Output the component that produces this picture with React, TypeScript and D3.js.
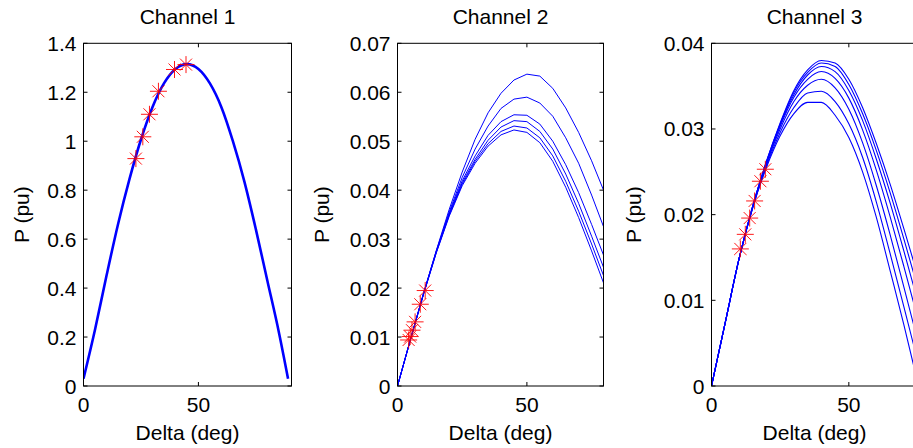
import React from "react";
import * as d3 from "d3";

// ---------- data ----------
const titles = ["Channel 1", "Channel 2", "Channel 3"];
const xLabel = "Delta (deg)";
const yLabel = "P (pu)";

const xTicks = [0, 50];
const yTicks1 = [0, 0.2, 0.4, 0.6, 0.8, 1, 1.2, 1.4];
const yTicks2 = [0, 0.01, 0.02, 0.03, 0.04, 0.05, 0.06, 0.07];
const yTicks3 = [0, 0.01, 0.02, 0.03, 0.04];

// Channel 1 (all curves coincide)
const ch1Delta = [0, 5, 10, 15, 20, 25, 30, 35, 40, 45, 50, 55, 60, 65, 70, 75, 80, 85, 89];
const ch1P = [0.03, 0.23, 0.45, 0.66, 0.845, 1.007, 1.139, 1.236, 1.295, 1.315, 1.295, 1.236, 1.139, 1.0, 0.835, 0.64, 0.43, 0.22, 0.03];
const ch1MarkDelta = [22.8, 25.8, 28.7, 32.6, 39.6, 44.6];
const ch1MarkP = [0.929, 1.018, 1.11, 1.204, 1.293, 1.313];

// Channel 2
const ch2Delta = [0, 5, 10, 15, 20, 25, 30, 35, 40, 45, 50, 55, 60, 65, 70, 75, 80];
const ch2A = [0, 0.0095, 0.0188, 0.0277, 0.0361, 0.0437, 0.0504, 0.0558, 0.0598, 0.0625, 0.0637, 0.0633, 0.0608, 0.0568, 0.0518, 0.046, 0.0395];
const ch2B = [0, 0.0095, 0.0188, 0.0276, 0.0356, 0.0426, 0.0484, 0.0531, 0.0567, 0.0586, 0.059, 0.0578, 0.0551, 0.0507, 0.0455, 0.039, 0.032];
const ch2C = [0, 0.0095, 0.0188, 0.0275, 0.0353, 0.0419, 0.047, 0.0512, 0.054, 0.0554, 0.0553, 0.0535, 0.05, 0.0452, 0.0395, 0.033, 0.0262];
const ch2D = [0, 0.0095, 0.0187, 0.0274, 0.0351, 0.0415, 0.0463, 0.0502, 0.0529, 0.0542, 0.054, 0.052, 0.0484, 0.0433, 0.0373, 0.0306, 0.0237];
const ch2E = [0, 0.0095, 0.0187, 0.0273, 0.0349, 0.0412, 0.0459, 0.0495, 0.052, 0.0531, 0.0527, 0.0507, 0.047, 0.0418, 0.0357, 0.029, 0.022];
const ch2F = [0, 0.0094, 0.0186, 0.0272, 0.0347, 0.0409, 0.0455, 0.049, 0.0513, 0.0523, 0.0518, 0.0497, 0.0459, 0.0406, 0.0344, 0.0276, 0.0205];
const ch2MarkDelta = [10.7, 8.8, 6.8, 5.6, 4.9, 4.3];
const ch2MarkP = [0.0195, 0.0167, 0.0131, 0.0114, 0.0101, 0.0094];

// Channel 3
const ch3Delta = [0, 5, 10, 15, 20, 25, 30, 35, 40, 45, 50, 55, 60, 65, 70, 75];
const ch3G1 = [0, 0.0074, 0.0148, 0.021, 0.0262, 0.0307, 0.0345, 0.0369, 0.038, 0.0377, 0.0358, 0.0325, 0.0283, 0.0236, 0.0184, 0.013];
const ch3G2 = [0, 0.0074, 0.0148, 0.021, 0.0262, 0.0306, 0.0343, 0.0366, 0.0377, 0.0373, 0.0352, 0.0318, 0.0275, 0.0226, 0.0172, 0.0116];
const ch3G3 = [0, 0.0074, 0.0148, 0.021, 0.0261, 0.0305, 0.034, 0.0363, 0.0373, 0.0367, 0.0345, 0.031, 0.0265, 0.0214, 0.0158, 0.01];
const ch3G4 = [0, 0.0074, 0.0148, 0.0209, 0.026, 0.0303, 0.0337, 0.0358, 0.0367, 0.0359, 0.0336, 0.0299, 0.0252, 0.0198, 0.014, 0.008];
const ch3G5 = [0, 0.0074, 0.0148, 0.0209, 0.0259, 0.03, 0.0332, 0.0351, 0.0358, 0.0348, 0.0323, 0.0284, 0.0234, 0.0177, 0.0116, 0.0054];
const ch3G6 = [0, 0.0074, 0.0148, 0.0208, 0.0257, 0.0296, 0.0325, 0.0342, 0.0344, 0.0332, 0.0306, 0.0267, 0.0215, 0.0155, 0.0093, 0.003];
const ch3G7 = [0, 0.0074, 0.0148, 0.0208, 0.0255, 0.0292, 0.0318, 0.0331, 0.0331, 0.0316, 0.029, 0.025, 0.0197, 0.0135, 0.0072, 0.0005];
const ch3MarkDelta = [10.5, 12.3, 13.9, 15.7, 17.8, 19.6];
const ch3MarkP = [0.016, 0.0177, 0.0196, 0.0216, 0.0239, 0.0253];

// ---------- layout ----------
const W = 913;
const H = 448;
const FONT = "'Liberation Sans', Arial, Helvetica, sans-serif";
const FS = 21;
const TOP = 43.3;
const BOTTOM = 386;

type PanelSpec = {
  title: string;
  left: number;
  right: number;
  xMax: number;
  yMax: number;
  yTicks: number[];
  xs: number[];
  series: number[][];
  lineWidth: number;
  markX: number[];
  markY: number[];
  yLabelX: number;
  curve: any;
};

const panels: PanelSpec[] = [
  {
    title: titles[0], left: 83.5, right: 291.5, xMax: 90.5, yMax: 1.4, yTicks: yTicks1,
    xs: ch1Delta, series: [ch1P], lineWidth: 2.6, markX: ch1MarkDelta, markY: ch1MarkP, yLabelX: 29,
    curve: d3.curveMonotoneX,
  },
  {
    title: titles[1], left: 397.5, right: 603.5, xMax: 79.6, yMax: 0.07, yTicks: yTicks2,
    xs: ch2Delta, series: [ch2A, ch2B, ch2C, ch2D, ch2E, ch2F], lineWidth: 1, markX: ch2MarkDelta, markY: ch2MarkP, yLabelX: 329,
    curve: d3.curveLinear,
  },
  {
    title: titles[2], left: 711.5, right: 917.5, xMax: 75, yMax: 0.04, yTicks: yTicks3,
    xs: ch3Delta, series: [ch3G1, ch3G2, ch3G3, ch3G4, ch3G5, ch3G6, ch3G7], lineWidth: 1.1, markX: ch3MarkDelta, markY: ch3MarkP, yLabelX: 641,
    curve: d3.curveMonotoneX,
  },
];

function fmt(v: number) {
  return String(+v.toFixed(3));
}

function Asterisk({ cx, cy }: { cx: number; cy: number }) {
  const a = 8.5;
  const b = 6;
  return (
    <g stroke="#ff0000" strokeWidth={1} opacity={0.9}>
      <line x1={cx - a} y1={cy} x2={cx + a} y2={cy} />
      <line x1={cx} y1={cy - a} x2={cx} y2={cy + a} />
      <line x1={cx - b} y1={cy - b} x2={cx + b} y2={cy + b} />
      <line x1={cx - b} y1={cy + b} x2={cx + b} y2={cy - b} />
    </g>
  );
}

function Panel({ p, idx }: { p: PanelSpec; idx: number }) {
  const x = d3.scaleLinear().domain([0, p.xMax]).range([p.left, p.right]);
  const y = d3.scaleLinear().domain([0, p.yMax]).range([BOTTOM, TOP]);
  const line = d3
    .line<number>()
    .x((_, i) => x(p.xs[i]))
    .y((d) => y(d))
    .curve(p.curve);
  const tl = 4;
  const cx = (p.left + p.right) / 2;
  const clipId = `clip-${idx}`;
  return (
    <g>
      <defs>
        <clipPath id={clipId}>
          <rect x={p.left} y={TOP} width={p.right - p.left} height={BOTTOM - TOP} />
        </clipPath>
      </defs>
      <g clipPath={`url(#${clipId})`}>
        {p.series.map((s, i) => (
          <path key={i} d={line(s) || ""} fill="none" stroke="#0000ff" strokeWidth={p.lineWidth} />
        ))}
      </g>
      {p.markX.map((mx, i) => (
        <Asterisk key={i} cx={x(mx)} cy={y(p.markY[i])} />
      ))}
      <rect x={p.left} y={TOP} width={p.right - p.left} height={BOTTOM - TOP} fill="none" stroke="#000" strokeWidth={1} />
      {p.yTicks.map((t) => (
        <g key={"y" + t}>
          <line x1={p.left} x2={p.left + tl} y1={y(t)} y2={y(t)} stroke="#000" />
          <line x1={p.right} x2={p.right - tl} y1={y(t)} y2={y(t)} stroke="#000" />
          <text x={p.left - 7} y={y(t) + 7.5} textAnchor="end" fontSize={FS} fontFamily={FONT} fill="#000">
            {fmt(t)}
          </text>
        </g>
      ))}
      {xTicks.map((t) => (
        <g key={"x" + t}>
          <line x1={x(t)} x2={x(t)} y1={BOTTOM} y2={BOTTOM - tl} stroke="#000" />
          <line x1={x(t)} x2={x(t)} y1={TOP} y2={TOP + tl} stroke="#000" />
          <text x={x(t)} y={411.5} textAnchor="middle" fontSize={FS} fontFamily={FONT} fill="#000">
            {fmt(t)}
          </text>
        </g>
      ))}
      <text x={cx} y={24} textAnchor="middle" fontSize={FS} fontFamily={FONT} fill="#000">
        {p.title}
      </text>
      <text x={cx} y={440} textAnchor="middle" fontSize={FS} fontFamily={FONT} fill="#000">
        {xLabel}
      </text>
      <text
        transform={`translate(${p.yLabelX},${(TOP + BOTTOM) / 2}) rotate(-90)`}
        textAnchor="middle"
        fontSize={FS}
        fontFamily={FONT}
        fill="#000"
      >
        {yLabel}
      </text>
    </g>
  );
}

export default function App() {
  return (
    <svg
      width={W}
      height={H}
      viewBox={`0 0 ${W} ${H}`}
      style={{ position: "absolute", left: 0, top: 0, background: "#fff", display: "block" }}
    >
      <rect x={0} y={0} width={W} height={H} fill="#fff" />
      {panels.map((p, i) => (
        <Panel key={i} p={p} idx={i} />
      ))}
    </svg>
  );
}
